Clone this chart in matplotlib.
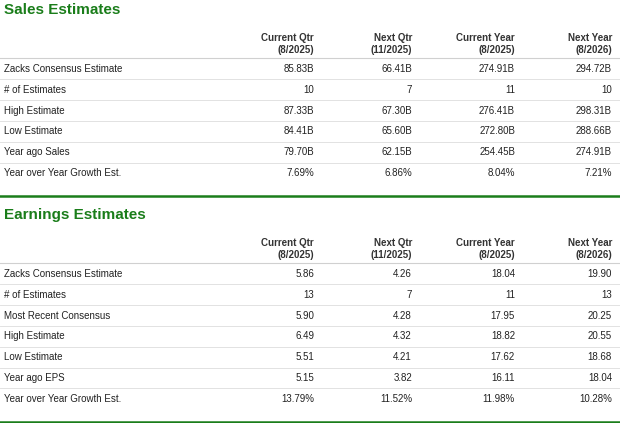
import matplotlib.pyplot as plt

# column headers
col_top = ["Current Qtr", "Next Qtr", "Current Year", "Next Year"]
col_bottom = ["(8/2025)", "(11/2025)", "(8/2025)", "(8/2026)"]

sales_rows = ["Zacks Consensus Estimate", "# of Estimates", "High Estimate",
              "Low Estimate", "Year ago Sales", "Year over Year Growth Est."]
sales_vals = [
    ["85.83B", "66.41B", "274.91B", "294.72B"],
    ["10", "7", "11", "10"],
    ["87.33B", "67.30B", "276.41B", "298.31B"],
    ["84.41B", "65.60B", "272.80B", "288.66B"],
    ["79.70B", "62.15B", "254.45B", "274.91B"],
    ["7.69%", "6.86%", "8.04%", "7.21%"],
]

eps_rows = ["Zacks Consensus Estimate", "# of Estimates", "Most Recent Consensus",
            "High Estimate", "Low Estimate", "Year ago EPS", "Year over Year Growth Est."]
eps_vals = [
    ["5.86", "4.26", "18.04", "19.90"],
    ["13", "7", "11", "13"],
    ["5.90", "4.28", "17.95", "20.25"],
    ["6.49", "4.32", "18.82", "20.55"],
    ["5.51", "4.21", "17.62", "18.68"],
    ["5.15", "3.82", "16.11", "18.04"],
    ["13.79%", "11.52%", "11.98%", "10.28%"],
]

GREEN = "#1a7d1a"
col_x = [314, 412, 515, 612]
row_h = 20.8

fig = plt.figure(figsize=(6.2, 4.23), dpi=100)
ax = fig.add_axes([0, 0, 1, 1])
ax.set_xlim(0, 620)
ax.set_ylim(423, 0)
ax.axis("off")


def draw_section(y0, title, rows, vals):
    ax.text(4, y0, title, color=GREEN, fontsize=11, fontweight="bold",
            va="center", ha="left", family="Liberation Sans")
    for x, t, b in zip(col_x, col_top, col_bottom):
        ax.text(x, y0 + 28, t, ha="right", va="center", fontsize=7, fontweight="bold",
                color="#333333", family="Liberation Sans")
        ax.text(x, y0 + 40, b, ha="right", va="center", fontsize=7, fontweight="bold",
                color="#333333", family="Liberation Sans")
    ax.plot([0, 620], [y0 + 48.5, y0 + 48.5], color="#d0d0d0", lw=0.8)
    for i, (name, vs) in enumerate(zip(rows, vals)):
        y = y0 + 59 + i * row_h
        ax.text(4, y, name, ha="left", va="center", fontsize=7,
                color="#222222", family="Liberation Sans")
        for x, v in zip(col_x, vs):
            ax.text(x, y, v, ha="right", va="center", fontsize=7,
                    color="#222222", family="Liberation Sans")
        if i < len(rows) - 1:
            ax.plot([0, 620], [y + row_h / 2, y + row_h / 2], color="#e2e2e2", lw=0.7)
    yl = y0 + 59 + (len(rows) - 1) * row_h + 23
    ax.plot([0, 620], [yl, yl], color=GREEN, lw=1.8)


draw_section(10, "Sales Estimates", sales_rows, sales_vals)
draw_section(215, "Earnings Estimates", eps_rows, eps_vals)

fig.savefig("out.png", dpi=100)
